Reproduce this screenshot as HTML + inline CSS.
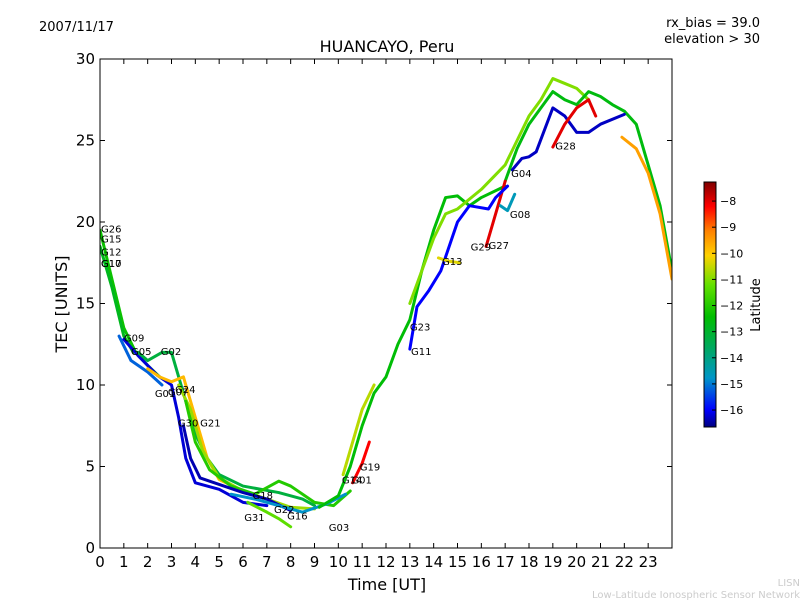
<!DOCTYPE html>
<html><head><meta charset="utf-8"><style>
body{margin:0;background:#fff;}
svg{font-family:"DejaVu Sans","Liberation Sans",sans-serif;}
</style></head><body>
<svg id="c" width="800" height="600">
<defs>
<linearGradient id="jet" x1="0" y1="1" x2="0" y2="0"></linearGradient>
<clipPath id="pc"><rect x="100" y="59" width="572" height="489"/></clipPath>
</defs>
<text x="39" y="31" font-size="13">2007/11/17</text>
<text x="760" y="27" font-size="13" text-anchor="end">rx_bias = 39.0</text>
<text x="760" y="43" font-size="13" text-anchor="end">elevation &gt; 30</text>
<text x="387" y="52" font-size="16" text-anchor="middle">HUANCAYO, Peru</text>
<text x="387" y="590" font-size="16" text-anchor="middle">Time [UT]</text>
<text x="67" y="304" font-size="16" text-anchor="middle" transform="rotate(-90 67 304)">TEC [UNITS]</text>
<g id="series" clip-path="url(#pc)"></g>
<g id="labels"></g>
<rect x="100" y="59" width="572" height="489" fill="none" stroke="#000"/>
<g id="axes"></g>
<rect x="704" y="182" width="12" height="245" fill="url(#jet)" stroke="#000"/>
<g id="cbticks"></g>
<text x="760" y="305" font-size="13" text-anchor="middle" transform="rotate(-90 760 305)">Latitude</text>
<text x="800" y="586" font-size="10" fill="#ccc" text-anchor="end">LISN</text>
<text x="800" y="598" font-size="10" fill="#ccc" text-anchor="end">Low-Latitude Ionospheric Sensor Network</text>
</svg>
<script>
const xTicks=[0,1,2,3,4,5,6,7,8,9,10,11,12,13,14,15,16,17,18,19,20,21,22,23];
const yTicks=[0,5,10,15,20,25,30];
const cbTicks=[-8,-9,-10,-11,-12,-13,-14,-15,-16];
const trackLat=[-12.3,-12.8,-15.2,-16.2,-13.2,-9.8,-10.8,-12.0,-16.4,-11.3,-14.8,-12.5,-8.2,-10.6,-11.0,-12.6,-16.3,-8.0,-9.5,-8.0,-16.0,-14.6,-10.3];
const tracks=[
[[0,19.5],[0.5,16.5],[1,13.5],[1.5,12],[2,11.2],[2.5,10.5]],
[[0,18.5],[0.5,16],[1,13],[1.4,12]],
[[0.8,13],[1.3,11.5],[2,10.8],[2.6,10]],
[[1,12.8],[1.6,11.8],[2.4,10.6],[3,10],[3.3,8],[3.6,5.5],[4,4],[5,3.6],[6,2.8],[7,2.6]],
[[1.6,12],[2,11.5],[2.6,12],[3,12],[3.5,9.5],[4,7],[4.5,5.5],[5,4.5],[6,3.8],[7.5,3.4],[8.5,3],[9,2.6]],
[[2,11],[2.5,10.5],[3,10.2],[3.5,10.5],[4,8],[4.5,5.5],[5,4.2],[6,3.5]],
[[3.3,10],[3.8,8.5],[4.3,6],[5,4.3],[6,3.5],[7,3],[8,2.5],[9,2.4]],
[[3.6,9],[4,6.5],[4.6,4.8],[5.5,3.8],[6.5,3.3],[7.5,4.1],[8,3.8],[9,2.8],[9.8,2.6],[10.5,3.5]],
[[3.5,7.5],[3.8,5.5],[4.2,4.3],[5,3.9],[6,3.4],[7,3],[8,2.3]],
[[6.2,2.8],[7,2.2],[7.5,1.8],[8,1.3]],
[[5.5,3.3],[6.5,3],[7.5,2.6],[8.5,2.2],[9.5,2.7],[10.3,3.3]],
[[9.2,2.5],[10,3.2],[10.5,5],[11,7.5],[11.5,9.5],[12,10.5],[12.5,12.5],[13,14],[13.5,17],[14,19.5],[14.5,21.5],[15,21.6],[15.5,21],[16,21.5],[17,22.2]],
[[10.6,4],[11,5.2],[11.3,6.5]],
[[10.2,4.5],[10.7,7],[11,8.5],[11.5,10]],
[[13,15],[13.5,17],[14,19],[14.5,20.5],[15,20.8],[16,22],[17,23.5],[17.5,25],[18,26.5],[18.5,27.5],[19,28.8],[19.5,28.5],[20,28.2],[20.5,27.5]],
[[17,22.5],[17.5,24.5],[18,26],[18.5,27],[19,28],[19.5,27.5],[20,27.2],[20.5,28],[21,27.7],[21.5,27.2],[22,26.8],[22.5,26],[23,23.5],[23.5,21],[24,17]],
[[17.3,23.2],[17.7,23.9],[18,24],[18.3,24.3],[19,27],[19.5,26.5],[20,25.5],[20.5,25.5],[21,26],[22,26.6]],
[[19,24.6],[19.5,26],[20,27],[20.5,27.5],[20.8,26.5]],
[[21.9,25.2],[22.5,24.5],[23,23],[23.5,20.5],[24,16.5]],
[[16.2,18.5],[16.5,20],[16.8,21.5],[17,22.5]],
[[13,12.2],[13.3,14.8],[13.8,15.8],[14.3,17],[15,20],[15.5,21],[16.3,20.8],[16.6,21.5],[17.1,22.2]],
[[16.8,21],[17.1,20.7],[17.4,21.7]],
[[14.2,17.8],[14.6,17.6],[15.1,17.5]]
];
const labNames=["G26","G15","G12","G17","G10","G09","G05","G02","G24","G07","G01","G30","G21","G18","G31","G22","G16","G03","G14","G01","G19","G23","G11","G13","G29","G27","G08","G04","G28"];
const labT=[0.04,0.04,0.04,0.04,0.04,1.0,1.3,2.55,3.15,2.85,2.3,3.27,4.2,6.4,6.05,7.3,7.85,9.6,10.15,10.55,10.9,13.0,13.05,14.35,15.55,16.3,17.2,17.25,19.1];
const labV=[19.6,19.0,18.2,17.5,17.5,12.9,12.1,12.1,9.75,9.6,9.5,7.7,7.7,3.25,1.9,2.4,2.0,1.3,4.2,4.2,5.0,13.6,12.1,17.6,18.5,18.6,20.5,23.0,24.7];
const X=t=>100+t*572/24, Y=v=>548-v*489/30;
const latMin=-16.65, latMax=-7.27;
const stops=[[0,[0,0,127]],[0.07,[0,0,255]],[0.2,[0,150,200]],[0.33,[0,170,90]],[0.45,[0,190,0]],[0.58,[100,225,0]],[0.7,[255,210,0]],[0.8,[255,130,0]],[0.9,[255,0,0]],[1,[127,0,0]]];
const grad=document.getElementById('jet');
stops.forEach(s=>{const e=document.createElementNS("http://www.w3.org/2000/svg",'stop');e.setAttribute('offset',s[0]);e.setAttribute('stop-color',`rgb(${s[1].join(',')})`);grad.appendChild(e);});
function jet(l){let f=(l-latMin)/(latMax-latMin);f=Math.max(0,Math.min(1,f));
 for(let i=1;i<stops.length;i++){if(f<=stops[i][0]){const a=stops[i-1],b=stops[i];const u=(f-a[0])/(b[0]-a[0]);
  return `rgb(${a[1].map((c,k)=>Math.round(c+(b[1][k]-c)*u)).join(',')})`;}}
 return 'rgb(127,0,0)';}
const NS="http://www.w3.org/2000/svg";
function mk(tag,attrs,parent){const e=document.createElementNS(NS,tag);for(const k in attrs)e.setAttribute(k,attrs[k]);parent.appendChild(e);return e;}
const sg=document.getElementById('series');
tracks.forEach((tr,i)=>{
 const p=mk('polyline',{points:tr.map(d=>X(d[0])+','+Y(d[1])).join(' '),fill:'none',stroke:jet(trackLat[i]),'stroke-width':3,'stroke-linejoin':'round','stroke-linecap':'round'},sg);
 
 
});
const lg=document.getElementById('labels');
labNames.forEach((n,i)=>{
 const t=mk('text',{x:X(labT[i]),y:Y(labV[i])+4,'font-size':10},lg);
 t.textContent=n;
 
 
});
const ax=document.getElementById('axes');
xTicks.forEach(v=>{
 mk('line',{x1:X(v),x2:X(v),y1:548,y2:543,stroke:'#000'},ax);
 mk('line',{x1:X(v),x2:X(v),y1:59,y2:64,stroke:'#000'},ax);
 const t=mk('text',{x:X(v),y:567,'font-size':15,'text-anchor':'middle'},ax);t.textContent=v;
 
 
});
yTicks.forEach(v=>{
 mk('line',{x1:100,x2:105,y1:Y(v),y2:Y(v),stroke:'#000'},ax);
 mk('line',{x1:667,x2:672,y1:Y(v),y2:Y(v),stroke:'#000'},ax);
 const t=mk('text',{x:95,y:Y(v)+5,'font-size':15,'text-anchor':'end'},ax);t.textContent=v;
 
 
});
const cb=document.getElementById('cbticks');
cbTicks.forEach(v=>{
 const y=182+(latMax-v)/(latMax-latMin)*245;
 mk('line',{x1:712,x2:716,y1:y,y2:y,stroke:'#000'},cb);
 const t=mk('text',{x:720,y:y+4,'font-size':11},cb);t.textContent='\u2212'+Math.abs(v);
 
 
});
</script>
</body></html>
